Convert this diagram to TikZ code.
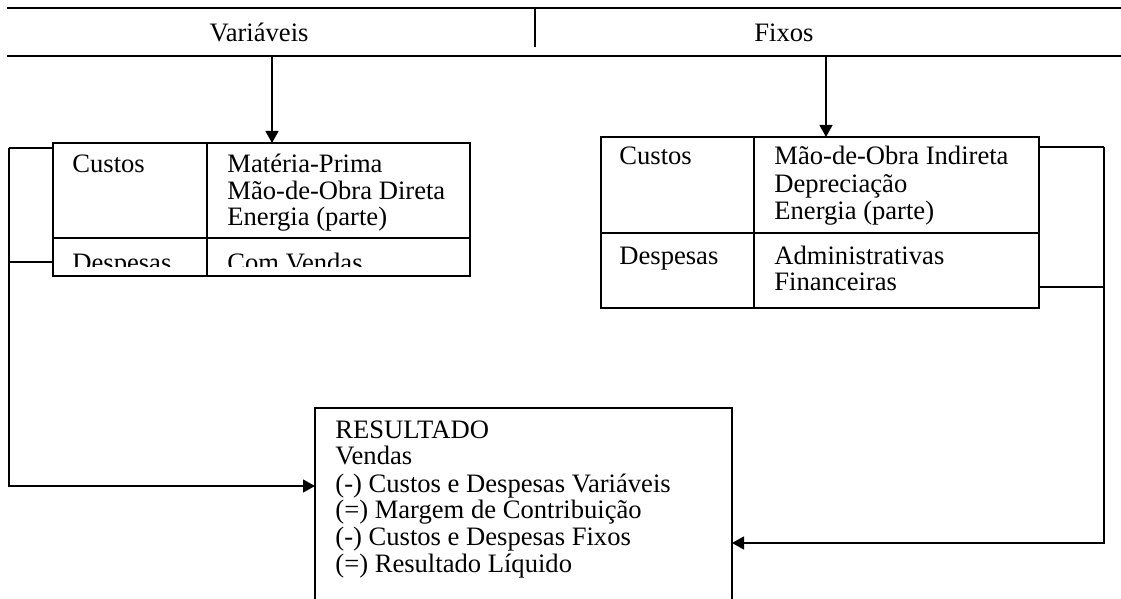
\documentclass[tikz,border=0pt]{standalone}
\usepackage{fontspec}
\setmainfont{Liberation Serif}
\usetikzlibrary{arrows.meta}
\pgfdeclarelayer{edgelayer}
\pgfdeclarelayer{nodelayer}
\pgfsetlayers{edgelayer,nodelayer,main}
\tikzset{font=\fontsize{13.3}{15}\selectfont}
\tikzstyle{none}=[inner sep=0pt]
\tikzstyle{txt}=[inner sep=0pt, anchor=base west]
\tikzstyle{head}=[inner sep=0pt, anchor=base]
\tikzstyle{rule}=[line width=0.6pt]
\tikzstyle{arr}=[line width=0.6pt, -{Triangle[length=6pt,width=6.5pt]}]

\begin{document}
\begin{tikzpicture}[x=0.5pt, y=-0.5pt]
	\useasboundingbox (0,0) rectangle (1121,599);
	\begin{pgfonlayer}{nodelayer}
		% header
		\node [style=none] (0) at (7, 8) {};
		\node [style=none] (1) at (1121, 8) {};
		\node [style=none] (2) at (7, 56) {};
		\node [style=none] (3) at (1121, 56) {};
		\node [style=none] (4) at (535, 8) {};
		\node [style=none] (5) at (535, 47) {};
		\node [style=head] (6) at (259, 42) {Variáveis};
		\node [style=head] (7) at (784, 42) {Fixos};
		\node [style=none] (8) at (272, 56) {};
		\node [style=none] (9) at (272, 143) {};
		\node [style=none] (10) at (826, 56) {};
		\node [style=none] (11) at (826, 137) {};
		% left table
		\node [style=none] (12) at (53, 143) {};
		\node [style=none] (13) at (470, 143) {};
		\node [style=none] (14) at (470, 276) {};
		\node [style=none] (15) at (53, 276) {};
		\node [style=none] (16) at (207, 143) {};
		\node [style=none] (17) at (207, 276) {};
		\node [style=none] (18) at (53, 238) {};
		\node [style=none] (19) at (470, 238) {};
		% right table
		\node [style=none] (20) at (601, 137) {};
		\node [style=none] (21) at (1039, 137) {};
		\node [style=none] (22) at (1039, 308) {};
		\node [style=none] (23) at (601, 308) {};
		\node [style=none] (24) at (754, 137) {};
		\node [style=none] (25) at (754, 308) {};
		\node [style=none] (26) at (601, 233) {};
		\node [style=none] (27) at (1039, 233) {};
		% brackets
		\node [style=none] (28) at (53, 148) {};
		\node [style=none] (29) at (9, 148) {};
		\node [style=none] (30) at (53, 262) {};
		\node [style=none] (31) at (9, 262) {};
		\node [style=none] (32) at (9, 486) {};
		\node [style=none] (33) at (315, 486) {};
		\node [style=none] (34) at (1039, 147) {};
		\node [style=none] (35) at (1104, 147) {};
		\node [style=none] (36) at (1039, 287) {};
		\node [style=none] (37) at (1104, 287) {};
		\node [style=none] (38) at (1104, 543) {};
		\node [style=none] (39) at (732, 543) {};
		% result box
		\node [style=none] (40) at (315, 599) {};
		\node [style=none] (41) at (315, 408) {};
		\node [style=none] (42) at (732, 408) {};
		\node [style=none] (43) at (732, 599) {};
		% texts
		\node [style=txt] (44) at (72, 173) {Custos};
		\node [style=txt] (45) at (227, 173) {Matéria-Prima};
		\node [style=txt] (46) at (227, 200) {Mão-de-Obra Direta};
		\node [style=txt] (47) at (227, 226) {Energia (parte)};
		\begin{scope}
			\clip (53, 238) rectangle (470, 267);
			\node [style=txt] (48) at (72, 271) {Despesas};
			\node [style=txt] (49) at (227, 271) {Com Vendas};
		\end{scope}
		\node [style=txt] (50) at (619, 165) {Custos};
		\node [style=txt] (51) at (774, 165) {Mão-de-Obra Indireta};
		\node [style=txt] (52) at (774, 193) {Depreciação};
		\node [style=txt] (53) at (774, 220) {Energia (parte)};
		\node [style=txt] (54) at (619, 264) {Despesas};
		\node [style=txt] (55) at (774, 264) {Administrativas};
		\node [style=txt] (56) at (774, 291) {Financeiras};
		\node [style=txt] (57) at (335, 438) {RESULTADO};
		\node [style=txt] (58) at (335, 465) {Vendas};
		\node [style=txt] (59) at (335, 492) {(-) Custos e Despesas Variáveis};
		\node [style=txt] (60) at (335, 518) {(=) Margem de Contribuição};
		\node [style=txt] (61) at (335, 545) {(-) Custos e Despesas Fixos};
		\node [style=txt] (62) at (335, 572) {(=) Resultado Líquido};
	\end{pgfonlayer}
	\begin{pgfonlayer}{edgelayer}
		\draw[style=rule] (0.center) to (1.center);
		\draw[style=rule] (2.center) to (3.center);
		\draw[style=rule] (4.center) to (5.center);
		\draw[style=arr] (8.center) to (9.center);
		\draw[style=arr] (10.center) to (11.center);
		\draw[style=rule] (12.center) -- (13.center) -- (14.center) -- (15.center) -- cycle;
		\draw[style=rule] (16.center) to (17.center);
		\draw[style=rule] (18.center) to (19.center);
		\draw[style=rule] (20.center) -- (21.center) -- (22.center) -- (23.center) -- cycle;
		\draw[style=rule] (24.center) to (25.center);
		\draw[style=rule] (26.center) to (27.center);
		\draw[style=rule] (28.center) to (29.center);
		\draw[style=rule] (30.center) to (31.center);
		\draw[style=arr] (29.center) -- (32.center) -- (33.center);
		\draw[style=rule] (34.center) to (35.center);
		\draw[style=rule] (36.center) to (37.center);
		\draw[style=arr] (35.center) -- (38.center) -- (39.center);
		\draw[style=rule] (40.center) -- (41.center) -- (42.center) -- (43.center);
	\end{pgfonlayer}
\end{tikzpicture}
\end{document}
